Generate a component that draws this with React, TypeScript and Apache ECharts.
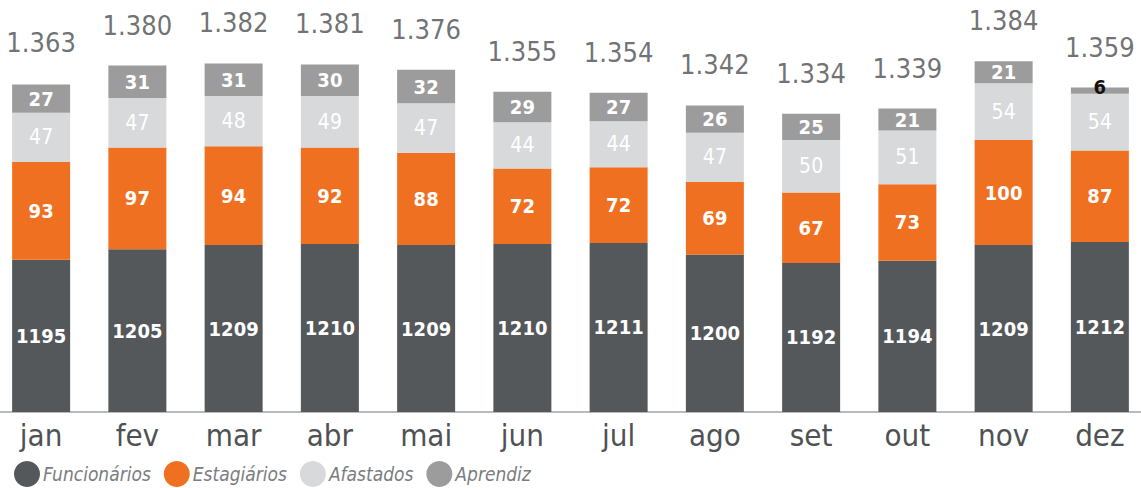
import React, { useEffect, useRef } from "react";
import * as echarts from "echarts";

const months = ["jan", "fev", "mar", "abr", "mai", "jun", "jul", "ago", "set", "out", "nov", "dez"];
const funcionarios = [1195, 1205, 1209, 1210, 1209, 1210, 1211, 1200, 1192, 1194, 1209, 1212];
const estagiarios = [93, 97, 94, 92, 88, 72, 72, 69, 67, 73, 100, 87];
const afastados = [47, 47, 48, 49, 47, 44, 44, 47, 50, 51, 54, 54];
const aprendiz = [27, 31, 31, 30, 32, 29, 27, 26, 25, 21, 21, 6];
const totals = [1363, 1380, 1382, 1381, 1376, 1355, 1354, 1342, 1334, 1339, 1384, 1359];

const FONT = "'DejaVu Sans Condensed', 'Open Sans', sans-serif";
const C_FUNC = "#54585b";
const C_EST = "#f07022";
const C_AFA = "#d8d9da";
const C_APR = "#9c9c9d";

function fmtThousand(v: number) {
  const s = String(v);
  return s.length > 3 ? s.slice(0, s.length - 3) + "." + s.slice(-3) : s;
}

export default function App() {
  const ref = useRef<HTMLDivElement>(null);
  useEffect(() => {
    document.body.style.margin = "0";
    if (!ref.current) return;
    const chart = echarts.init(ref.current, null, { renderer: "svg" });
    const segLabel = (size: number, weight: any) => ({
      show: true,
      position: "inside",
      color: "#ffffff",
      fontFamily: FONT,
      fontSize: size,
      fontWeight: weight,
    });
    chart.setOption({
      animation: false,
      backgroundColor: "#ffffff",
      grid: {
        left: -7,
        width: 1155,
        top: 44.5,
        bottom: 76,
        outerBoundsMode: "none",
        containLabel: false,
      },
      legend: {
        data: ["Funcionários", "Estagiários", "Afastados", "Aprendiz"],
        left: 9,
        top: 456,
        icon: "circle",
        itemWidth: 26,
        itemHeight: 26,
        itemGap: 13,
        textStyle: {
          fontFamily: FONT,
          fontStyle: "italic",
          fontSize: 19,
          color: "#7a7d80",
          padding: [0, 0, 0, -2],
        },
      },
      xAxis: {
        type: "category",
        data: months,
        axisLine: { show: true, lineStyle: { color: "#b9babb", width: 2 } },
        axisTick: { show: false },
        axisLabel: {
          fontFamily: FONT,
          fontSize: 31,
          color: "#4f5255",
          margin: 7,
        },
      },
      yAxis: {
        type: "value",
        min: 1050,
        max: 1400,
        show: false,
        splitLine: { show: false },
      },
      series: [
        {
          name: "Funcionários",
          type: "bar",
          stack: "t",
          barWidth: 58,
          data: funcionarios,
          itemStyle: { color: C_FUNC },
          label: segLabel(20, "bold"),
        },
        {
          name: "Estagiários",
          type: "bar",
          stack: "t",
          data: estagiarios,
          itemStyle: { color: C_EST },
          label: segLabel(20, "bold"),
        },
        {
          name: "Afastados",
          type: "bar",
          stack: "t",
          data: afastados,
          itemStyle: { color: C_AFA },
          label: segLabel(21, "normal"),
        },
        {
          name: "Aprendiz",
          type: "bar",
          stack: "t",
          data: aprendiz.map((v, i) =>
            i === aprendiz.length - 1
              ? { value: v, label: { color: "#111111", fontWeight: "bold", offset: [0, -4] } }
              : v
          ),
          itemStyle: { color: C_APR },
          label: segLabel(20, "bold"),
        },
        {
          name: "Total",
          type: "scatter",
          data: totals,
          symbolSize: 0,
          silent: true,
          label: {
            show: true,
            position: "top",
            distance: 27,
            fontFamily: FONT,
            fontSize: 27,
            color: "#4a4d50",
            formatter: (p: any) => fmtThousand(p.value),
          },
        },
      ],
    });
    return () => chart.dispose();
  }, []);
  return <div ref={ref} style={{ width: 1141, height: 488 }} />;
}
